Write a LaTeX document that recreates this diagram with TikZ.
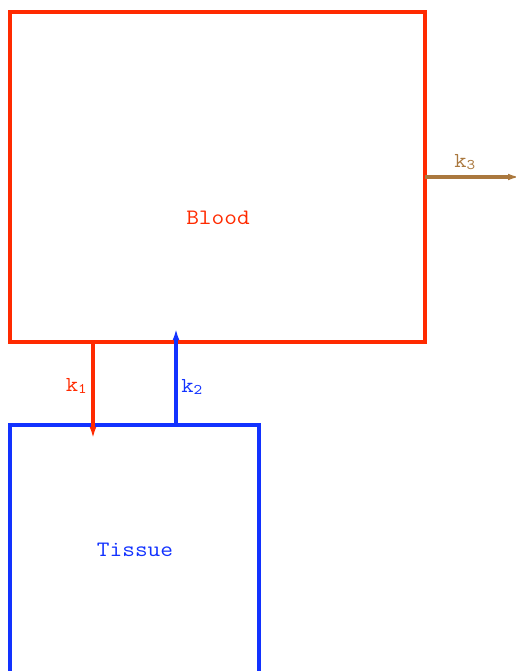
\documentclass[tikz,border=0pt]{standalone}
\usepackage{fontspec}
\newfontfamily\courfont{Latin Modern Mono}[FakeStretch=1.12]
\usetikzlibrary{arrows.meta}
\definecolor{bloodred}{RGB}{255,42,0}
\definecolor{tissueblue}{RGB}{18,50,255}
\definecolor{clearbrown}{RGB}{170,120,62}
\newcommand{\rate}[1]{k\raisebox{-0.3ex}{\fontsize{11}{12}\selectfont #1}}
\begin{document}
\begin{tikzpicture}[x=0.75pt,y=-0.75pt,
  compartment/.style={line width=3pt},
  flow/.style={line width=2.6pt,-{Latex[length=9pt,width=5pt]}},
  boxlabel/.style={font=\courfont\fontsize{16.5}{18}\selectfont},
  ratelabel/.style={font=\courfont\fontsize{16}{18}\selectfont,inner sep=0pt}]
  \useasboundingbox (0,0) rectangle (516,671);
  \begin{scope}
    \clip (0,0) rectangle (516,671);
    % compartments
    \draw[compartment,bloodred] (10,12) rectangle (425,342);
    \draw[compartment,tissueblue] (10,700) -- (10,425) -- (259,425) -- (259,700);
  \end{scope}
  \node[boxlabel,text=bloodred] (blood) at (218,218) {Blood};
  \node[boxlabel,text=tissueblue] (tissue) at (135,550) {Tissue};
  % exchange between blood and tissue
  \coordinate (k1top) at (93,342);
  \coordinate (k1end) at (93,439);
  \coordinate (k2bot) at (176,425);
  \coordinate (k2end) at (176,328);
  \draw[flow,bloodred] (k1top) -- (k1end);
  \draw[flow,tissueblue] (k2bot) -- (k2end);
  \node[ratelabel,text=bloodred,anchor=base east] (k1) at (87,391) {\rate{1}};
  \node[ratelabel,text=tissueblue,anchor=base west] (k2) at (181,392) {\rate{2}};
  % clearance from blood
  \coordinate (k3start) at (425,177);
  \coordinate (k3end) at (520,177);
  \draw[flow,clearbrown] (k3start) -- (k3end);
  \node[ratelabel,text=clearbrown,anchor=base west] (k3) at (454,167) {\rate{3}};
\end{tikzpicture}
\end{document}
